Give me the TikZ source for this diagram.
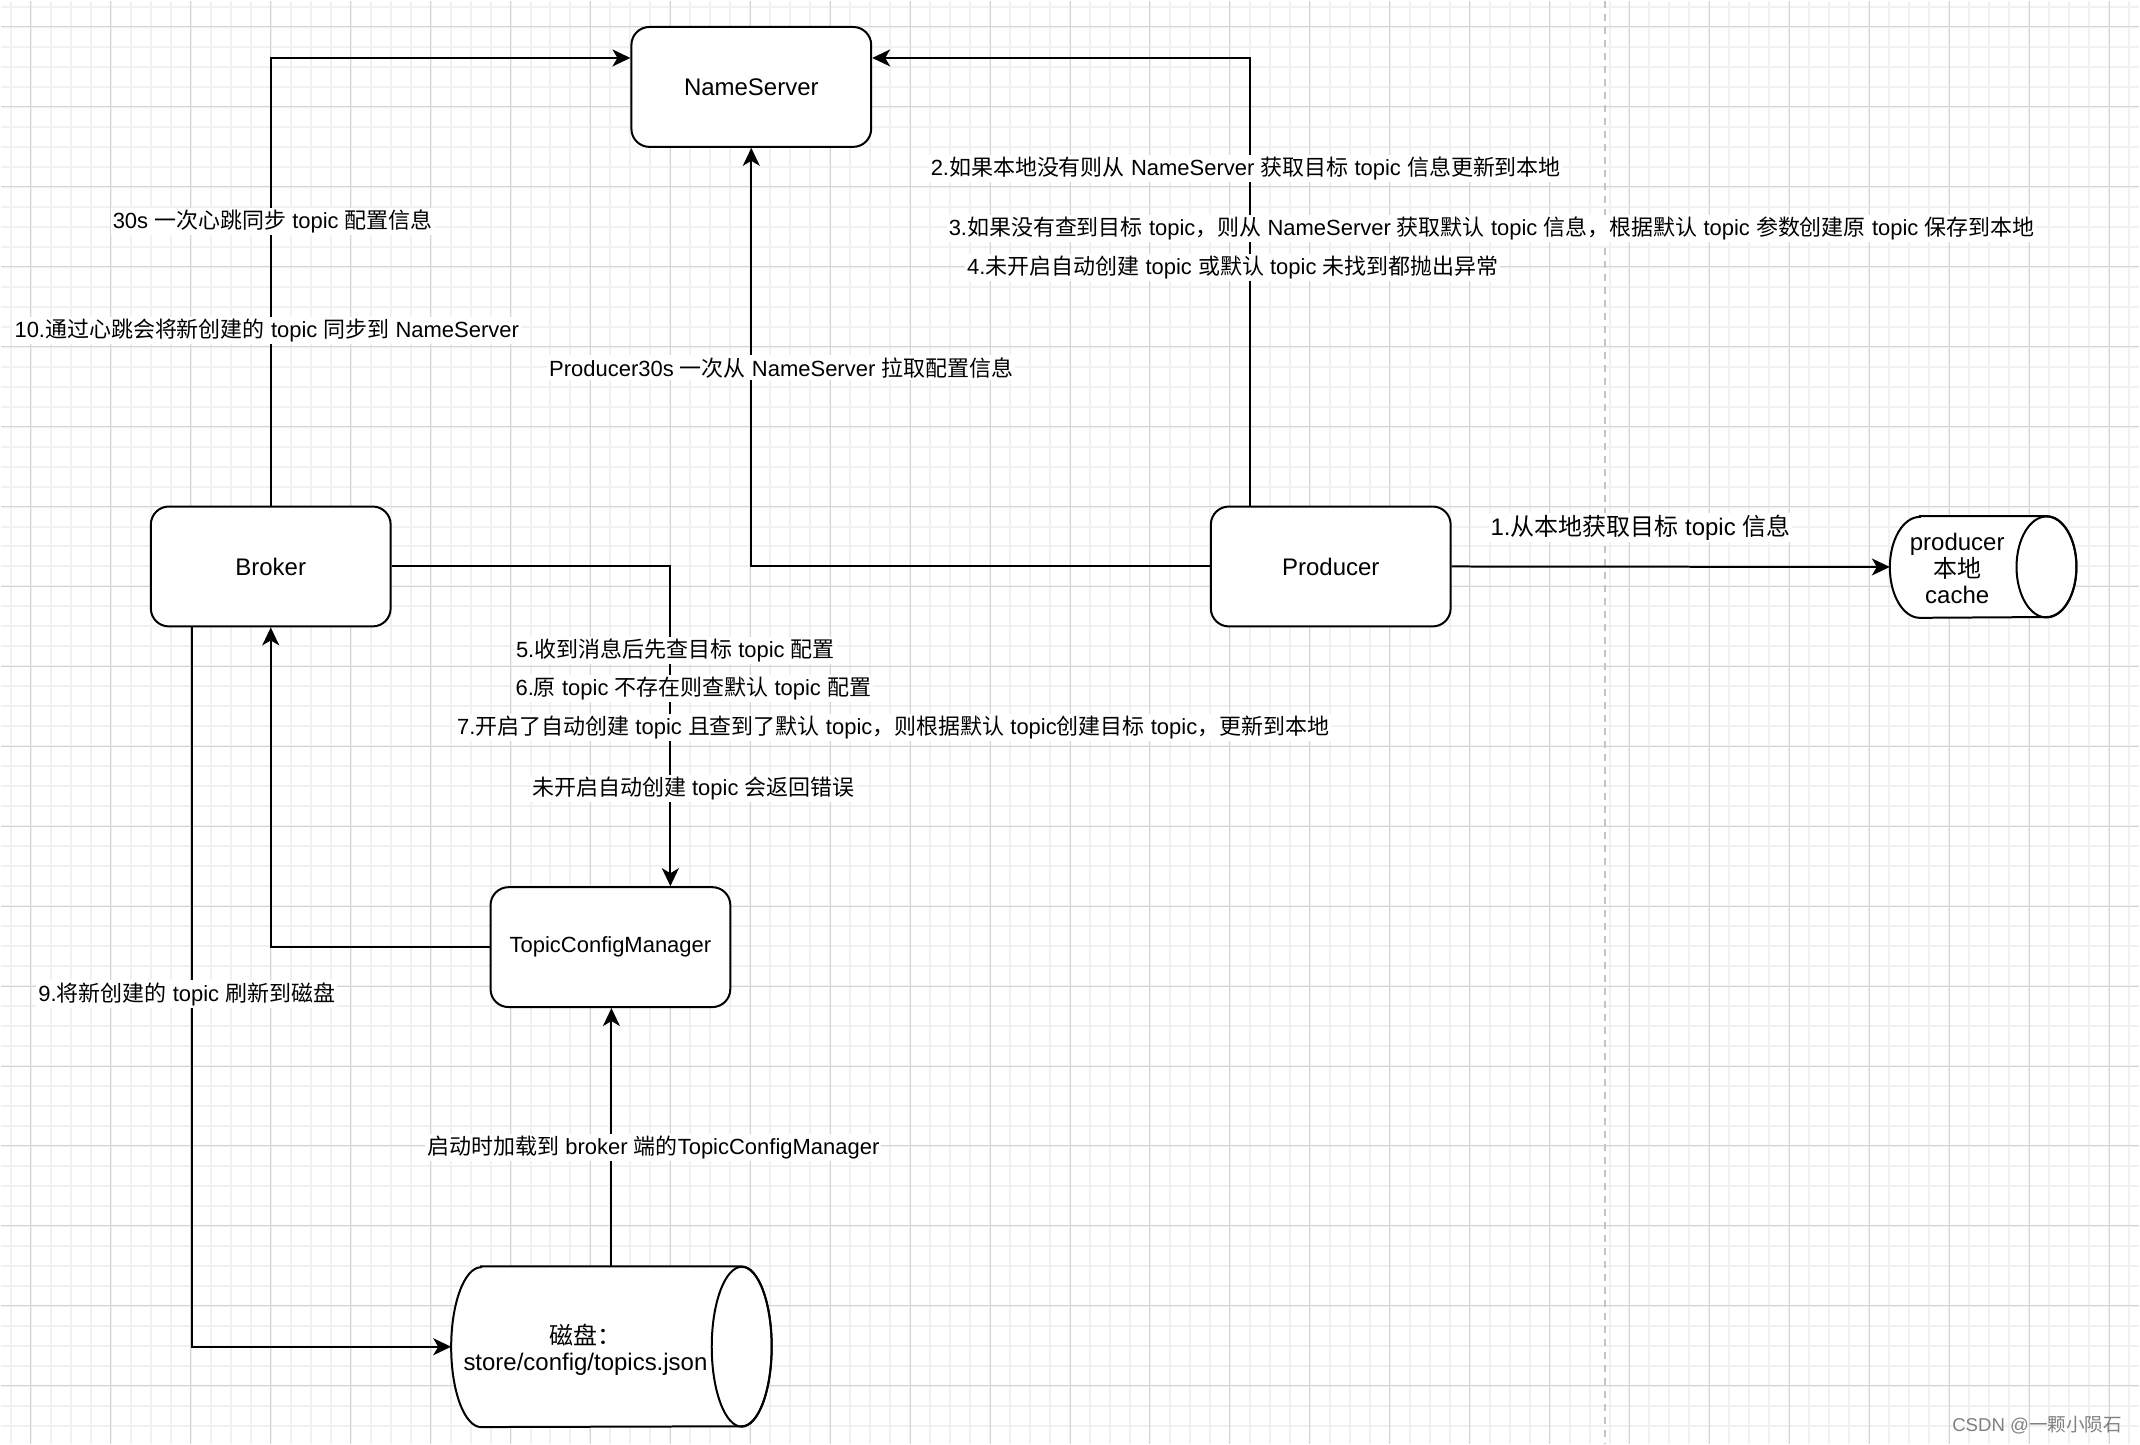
\documentclass[tikz,border=0pt]{standalone}
\usepackage{fontspec}
\setmainfont{Liberation Sans}
\newfontfamily\zhfont{Noto Sans CJK SC}
\newcommand\zh[1]{{\zhfont #1}}
\usetikzlibrary{arrows.meta}

\definecolor{gridlight}{HTML}{F1F1F1}
\definecolor{griddark}{HTML}{D4D4D4}
\definecolor{pagegray}{HTML}{C4C4C4}

\tikzset{
  box/.style={draw, line width=1pt, rounded corners=9pt, fill=white,
    minimum width=120pt, minimum height=60pt, inner sep=0pt,
    font=\fontsize{12}{14}\selectfont},
  lbl/.style={fill=white, inner sep=1pt, font=\fontsize{11}{13}\selectfont},
  link/.style={line width=1pt, -{Stealth[length=9pt,width=8.5pt,inset=2.5pt]}},
  gridminor/.style={gridlight, line width=1pt},
  gridmajor/.style={griddark, line width=0.5pt},
}

\begin{document}
\begin{tikzpicture}[x=0.5pt,y=-0.5pt]
	% background grid
	\fill [white] (0,0) rectangle (2140,1444);
	\foreach \x in {10,30,...,2130} \draw [gridminor] (\x,0) -- (\x,1444);
	\foreach \y in {6,26,...,1426} \draw [gridminor] (0,\y) -- (2140,\y);
	\foreach \x in {30,110,...,2110} \draw [gridmajor] (\x,0) -- (\x,1444);
	\foreach \y in {26,106,...,1386} \draw [gridmajor] (0,\y) -- (2140,\y);
	\draw [pagegray, line width=1pt, dash pattern=on 3.5pt off 3pt] (1605,0) -- (1605,1444);
	\useasboundingbox (0,0) rectangle (2140,1444);

	% boxes
	\node [box] (ns) at (751,86) {NameServer};
	\node [box] (broker) at (270,566) {Broker};
	\node [box] (producer) at (1331,566) {Producer};
	\node [box, font=\fontsize{11}{13}\selectfont] (tcm) at (610,947) {TopicConfigManager};

	% producer cache
	\node [minimum width=93pt, minimum height=50.5pt, inner sep=0pt] (cache) at (1984,566.5) {};
	\draw [line width=1pt, fill=white] ([xshift=15pt]cache.north west) -- ([xshift=-15pt]cache.north east)
		arc [start angle=90, end angle=-90, x radius=15pt, y radius=25.25pt]
		-- ([xshift=15pt]cache.south west)
		arc [start angle=270, end angle=90, x radius=15pt, y radius=25.25pt] -- cycle;
	\draw [line width=1pt] ([xshift=-15pt]cache.east) ellipse [x radius=15pt, y radius=25.25pt];
	\node [align=center, font=\fontsize{12}{13.3}\selectfont] (cachetxt) at (1958,568) {producer\\\zh{本地}\\cache};

	% disk
	\node [minimum width=160pt, minimum height=80pt, inner sep=0pt] (disk) at (611,1347) {};
	\draw [line width=1pt, fill=white] ([xshift=15pt]disk.north west) -- ([xshift=-15pt]disk.north east)
		arc [start angle=90, end angle=-90, x radius=15pt, y radius=40pt]
		-- ([xshift=15pt]disk.south west)
		arc [start angle=270, end angle=90, x radius=15pt, y radius=40pt] -- cycle;
	\draw [line width=1pt] ([xshift=-15pt]disk.east) ellipse [x radius=15pt, y radius=40pt];
	\node [align=center, font=\fontsize{12}{13.3}\selectfont] (disktxt) at (585,1350) {\zh{磁盘：}\\store/config/topics.json};

	% connectors
	\draw [link] (broker.north) |- ([yshift=14.5pt]ns.west);
	\draw [link] ([xshift=-40.5pt]producer.north) |- ([yshift=14.5pt]ns.east);
	\draw [link] (producer.west) -| (ns.south);
	\draw [link] (producer.east) -- (cache.west);
	\draw [link] (broker.east) -| ([xshift=30pt]tcm.north);
	\draw [link] (tcm.west) -| (broker.south);
	\draw [link] ([xshift=-39.5pt]broker.south) |- (disk.west);
	\draw [link] (disk.north) -- (disk.north |- tcm.south);

	% labels
	\node [lbl] (lbeat) at (272,221) {30s \zh{一次心跳同步} topic \zh{配置信息}};
	\node [lbl] (lsync) at (266,330) {10.\zh{通过心跳会将新创建的} topic \zh{同步到} NameServer};
	\node [lbl] (lfetch) at (1246,168) {2.\zh{如果本地没有则从} NameServer \zh{获取目标} topic \zh{信息更新到本地}};
	\node [lbl] (ldefault) at (1492,228) {3.\zh{如果没有查到目标} topic\zh{，则从} NameServer \zh{获取默认} topic \zh{信息，根据默认} topic \zh{参数创建原} topic \zh{保存到本地}};
	\node [lbl] (lthrow) at (1233,267) {4.\zh{未开启自动创建} topic \zh{或默认} topic \zh{未找到都抛出异常}};
	\node [lbl] (lpull) at (781,367) {Producer30s \zh{一次从} NameServer \zh{拉取配置信息}};
	\node [lbl, font=\fontsize{12}{14}\selectfont] (llocal) at (1641,527) {1.\zh{从本地获取目标} topic \zh{信息}};
	\node [lbl] (lcheck) at (675,650) {5.\zh{收到消息后先查目标} topic \zh{配置}};
	\node [lbl] (lcheckdef) at (693,688) {6.\zh{原} topic \zh{不存在则查默认} topic \zh{配置}};
	\node [lbl] (lcreate) at (893,727) {7.\zh{开启了自动创建} topic \zh{且查到了默认} topic\zh{，则根据默认} topic\zh{创建目标} topic\zh{，更新到本地}};
	\node [lbl] (lerror) at (693,788) {\zh{未开启自动创建} topic \zh{会返回错误}};
	\node [lbl] (lflush) at (186,994) {9.\zh{将新创建的} topic \zh{刷新到磁盘}};
	\node [lbl] (lload) at (653,1148) {\zh{启动时加载到} broker \zh{端的}TopicConfigManager};

	% watermark
	\node [text=gray, font=\fontsize{9.3}{11}\selectfont] (mark) at (2038,1425) {CSDN @\zh{一颗小陨石}};
\end{tikzpicture}
\end{document}
